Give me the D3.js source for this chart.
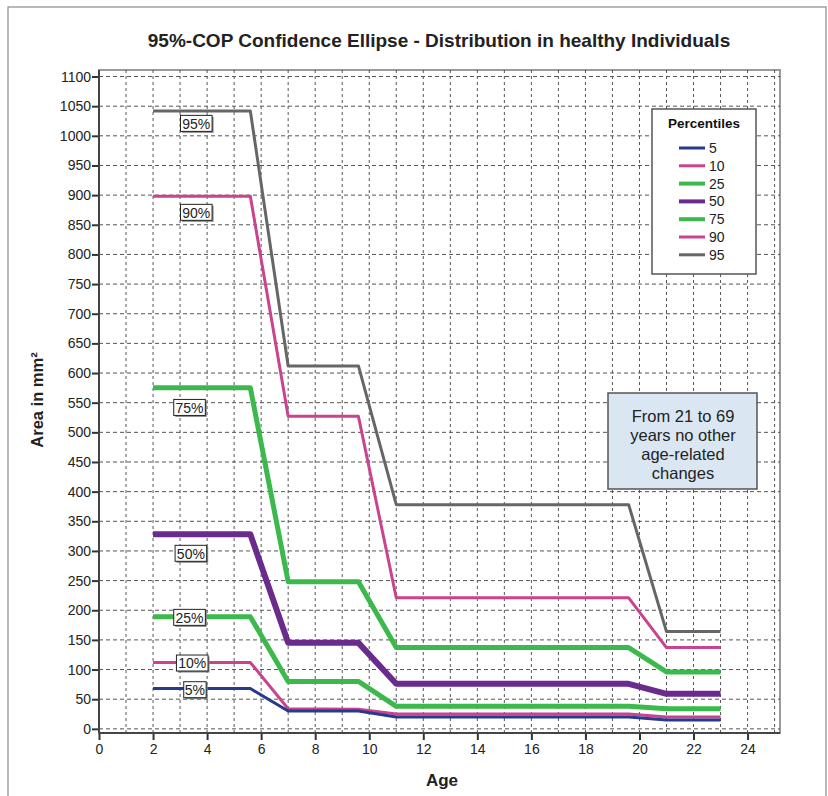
<!DOCTYPE html>
<html>
<head>
<meta charset="utf-8">
<script src="https://cdn.jsdelivr.net/npm/d3@7"></script>
<style>
  body { margin: 0; background: #fff; }
  text { font-family: "Liberation Sans", Arial, sans-serif; }
</style>
</head>
<body>
<div id="chart"></div>
<script>
// ages where the curves change
var ages = [2, 5.6, 7, 9.6, 11, 19.6, 21, 23];

var p5  = [68, 68, 30, 30, 20, 20, 15, 15];
var p10 = [112, 112, 34, 33, 25, 25, 20, 20];
var p25 = [189, 189, 80, 80, 38, 38, 34, 34];
var p50 = [328, 328, 145, 145, 76, 76, 59, 59];
var p75 = [575, 575, 248, 248, 137, 137, 96, 96];
var p90 = [898, 898, 527, 527, 221, 221, 137, 137];
var p95 = [1042, 1042, 612, 612, 378, 378, 164, 164];

var percentiles = ["5", "10", "25", "50", "75", "90", "95"];
var seriesValues = [p5, p10, p25, p50, p75, p90, p95];
var colors = ["#283a8e", "#c9438f", "#3cb94c", "#6a2b8c", "#3cb94c", "#c9438f", "#666666"];
var widths = [3, 3, 5, 6, 5, 3, 3];

// in-chart labels (data units)
var labelText = ["5%", "10%", "25%", "50%", "75%", "90%", "95%"];
var labelAge = [3.55, 3.45, 3.35, 3.4, 3.35, 3.6, 3.6];
var labelArea = [66, 111, 188, 296, 542, 871, 1021];

var yTicks = d3.range(0, 1101, 50);
var xTicks = d3.range(0, 25, 2);

var width = 828, height = 796;

var svg = d3.select("#chart")
    .append("svg")
    .attr("width", width)
    .attr("height", height);

// outer frame
svg.append("rect")
    .attr("x", 8).attr("y", 7)
    .attr("width", 818).attr("height", 800)
    .attr("fill", "#fff")
    .attr("stroke", "#8a8a8a")
    .attr("stroke-width", 1.2);

var x = d3.scaleLinear().domain([0, 25.2]).range([99, 780]);
var y = d3.scaleLinear().domain([-7, 1111]).range([733, 70]);

// plot area frame
svg.append("rect")
    .attr("x", x(0)).attr("y", y(1111))
    .attr("width", x(25.2) - x(0))
    .attr("height", y(-7) - y(1111))
    .attr("fill", "#fff")
    .attr("stroke", "#9a9a9a")
    .attr("stroke-width", 2);

// grid
var grid = svg.append("g").attr("class", "grid");
grid.selectAll("line.h")
    .data(yTicks)
    .enter().append("line")
    .attr("class", "h")
    .attr("x1", x(0)).attr("x2", x(25.2))
    .attr("y1", d => y(d)).attr("y2", d => y(d))
    .attr("stroke", "#555")
    .attr("stroke-width", 1)
    .attr("stroke-dasharray", "4,3");

grid.selectAll("line.v")
    .data(d3.range(1, 26))
    .enter().append("line")
    .attr("class", "v")
    .attr("x1", d => x(d)).attr("x2", d => x(d))
    .attr("y1", y(1111)).attr("y2", y(-7))
    .attr("stroke", "#555")
    .attr("stroke-width", 1)
    .attr("stroke-dasharray", "3,3");

// axes
var yAxis = d3.axisLeft(y)
    .tickValues(yTicks)
    .tickFormat(d3.format("d"))
    .tickSize(7)
    .tickPadding(1);

var xAxis = d3.axisBottom(x)
    .tickValues(xTicks)
    .tickFormat(d3.format("d"))
    .tickSize(7)
    .tickPadding(4);

var gy = svg.append("g")
    .attr("transform", "translate(" + x(0) + ",0)")
    .call(yAxis);
gy.select(".domain").remove();
gy.append("line")
    .attr("x1", 0).attr("x2", 0)
    .attr("y1", y(1111)).attr("y2", y(-7))
    .attr("stroke", "#444").attr("stroke-width", 2);

var gx = svg.append("g")
    .attr("transform", "translate(0," + y(-7) + ")")
    .call(xAxis);
gx.select(".domain").remove();
gx.append("line")
    .attr("x1", x(0)).attr("x2", x(25.2))
    .attr("y1", 0).attr("y2", 0)
    .attr("stroke", "#444").attr("stroke-width", 2);

svg.selectAll(".tick line").attr("stroke", "#333").attr("stroke-width", 2);
svg.selectAll(".tick text")
    .attr("font-size", 14)
    .attr("fill", "#222")
    .style("font-family", "'Liberation Sans', Arial, sans-serif");

// percentile curves
var line = d3.line()
    .x((d, i) => x(ages[i]))
    .y(d => y(d));

var order = [6, 5, 4, 3, 2, 1, 0];
svg.append("g").selectAll("path")
    .data(order)
    .enter().append("path")
    .attr("d", i => line(seriesValues[i]))
    .attr("fill", "none")
    .attr("stroke", i => colors[i])
    .attr("stroke-width", i => widths[i])
    .attr("stroke-linejoin", "round");

// curve labels
var labels = svg.append("g").selectAll("g")
    .data(labelText)
    .enter().append("g")
    .attr("transform", (d, i) => "translate(" + x(labelAge[i]) + "," + y(labelArea[i]) + ")");

labels.append("rect")
    .attr("x", d => -d.length * 4.6 - 2 + 1.5)
    .attr("y", -8 + 1.5)
    .attr("width", d => d.length * 9.2 + 4)
    .attr("height", 16)
    .attr("fill", "#888");
labels.append("rect")
    .attr("x", d => -d.length * 4.6 - 2)
    .attr("y", -8)
    .attr("width", d => d.length * 9.2 + 4)
    .attr("height", 16)
    .attr("fill", "#fff")
    .attr("stroke", "#222")
    .attr("stroke-width", 1);
labels.append("text")
    .attr("text-anchor", "middle")
    .attr("dy", "0.37em")
    .attr("font-size", 14)
    .attr("fill", "#222")
    .text(d => d);

// title
svg.append("text")
    .attr("x", 439)
    .attr("y", 47)
    .attr("text-anchor", "middle")
    .attr("font-size", 19)
    .attr("font-weight", "bold")
    .attr("fill", "#222")
    .text("95%-COP Confidence Ellipse - Distribution in healthy Individuals");

// axis titles
svg.append("text")
    .attr("x", 442)
    .attr("y", 786)
    .attr("text-anchor", "middle")
    .attr("font-size", 17)
    .attr("font-weight", "bold")
    .attr("fill", "#222")
    .text("Age");

svg.append("text")
    .attr("transform", "translate(43,400) rotate(-90)")
    .attr("text-anchor", "middle")
    .attr("font-size", 16.5)
    .attr("font-weight", "bold")
    .attr("fill", "#222")
    .text("Area in mm²");

// legend
var legend = svg.append("g").attr("transform", "translate(652,109)");
legend.append("rect")
    .attr("width", 104).attr("height", 165)
    .attr("fill", "#fff")
    .attr("stroke", "#555")
    .attr("stroke-width", 1.5);
legend.append("text")
    .attr("x", 52).attr("y", 19)
    .attr("text-anchor", "middle")
    .attr("font-size", 13.5)
    .attr("font-weight", "bold")
    .attr("fill", "#111")
    .text("Percentiles");

var items = legend.selectAll("g.item")
    .data(percentiles)
    .enter().append("g")
    .attr("class", "item")
    .attr("transform", (d, i) => "translate(0," + (39 + i * 17.8) + ")");
items.append("line")
    .attr("x1", 27).attr("x2", 53)
    .attr("stroke", (d, i) => colors[i])
    .attr("stroke-width", (d, i) => Math.min(widths[i], 4));
items.append("text")
    .attr("x", 57)
    .attr("dy", "0.36em")
    .attr("font-size", 14)
    .attr("fill", "#222")
    .text(d => d);

// note box
var note = svg.append("g").attr("transform", "translate(608,393)");
note.append("rect")
    .attr("width", 149).attr("height", 96)
    .attr("fill", "#dae7f3")
    .attr("stroke", "#555")
    .attr("stroke-width", 1.5);
note.append("text")
    .attr("text-anchor", "middle")
    .attr("font-size", 16.5)
    .attr("fill", "#222")
    .selectAll("tspan")
    .data(["From 21 to 69", "years no other", "age-related", "changes"])
    .enter().append("tspan")
    .attr("x", 75)
    .attr("y", (d, i) => 29 + i * 19)
    .text(d => d);
</script>
</body>
</html>
